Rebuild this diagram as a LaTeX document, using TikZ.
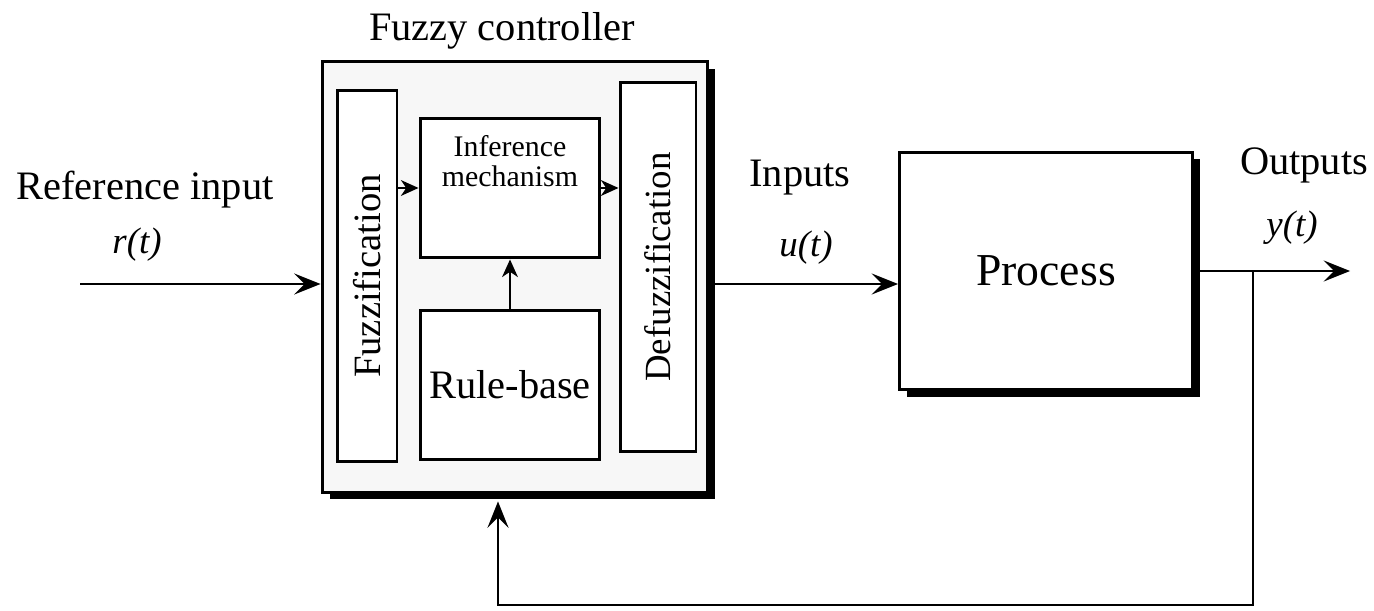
\documentclass[tikz,border=0pt]{standalone}
\usepackage{fontspec}
\setmainfont{Liberation Serif}
\usetikzlibrary{arrows.meta,shadows}

\begin{document}
\begin{tikzpicture}[x=0.02cm, y=-0.02cm,
  box/.style={draw, line width=1.7pt, fill=white, inner sep=0pt},
  shbox/.style={box, drop shadow={shadow xshift=0.15cm, shadow yshift=-0.14cm, fill=black, opacity=1}},
  arr/.style={line width=1.2pt, -{Stealth[length=15pt, width=12pt, inset=6pt]}},
  sarr/.style={line width=1.2pt, -{Stealth[length=10pt, width=9pt, inset=3pt]}},
  lbl/.style={font=\fontsize{23}{25}\selectfont},
  sig/.style={font=\fontsize{21}{23}\selectfont\itshape}]
  \useasboundingbox (0,0) rectangle (1374,611);
  % controller frame and its blocks
  \node[shbox, fill=black!3, minimum width=7.72cm, minimum height=8.62cm] (ctrl) at (515,277) {};
  \node[box, minimum width=1.2cm, minimum height=7.44cm] (fuzz) at (367,276) {};
  \node[rotate=90, font=\fontsize{22}{24}\selectfont] at (fuzz) {Fuzzification};
  \node[box, minimum width=3.6cm, minimum height=2.8cm, align=center,
        font=\fontsize{17}{19}\selectfont] (infer) at (510,188) {Inference\\[-2pt]mechanism\\[12pt]};
  \node[box, minimum width=3.6cm, minimum height=3.0cm, lbl] (rule) at (510,385) {Rule-base};
  \node[box, minimum width=1.52cm, minimum height=7.4cm] (defuzz) at (658,267) {};
  \node[rotate=90, font=\fontsize{21}{23}\selectfont] at (defuzz) {Defuzzification};
  \node[lbl] at (502,31) {Fuzzy controller};
  % plant
  \node[shbox, minimum width=5.86cm, minimum height=4.76cm, font=\fontsize{26}{28}\selectfont] (proc) at (1046,271) {Process};
  % signals
  \coordinate (refin) at (80,284);
  \coordinate (out) at (1350,271);
  \coordinate (tap) at (1253,271);
  \coordinate (fbR) at (1253,605);
  \coordinate (fbL) at (498,605);
  \draw[arr] (refin) -- (refin -| ctrl.west);
  \draw[sarr] (fuzz.east |- infer) -- (infer.west);
  \draw[sarr] (infer.east) -- (defuzz.west |- infer);
  \draw[sarr] (rule.north) -- (infer.south);
  \draw[arr] (ctrl.east |- refin) -- (proc.west |- refin);
  \draw[arr, line width=0.8pt] (proc.east) -- (out);
  \draw[arr] (tap) -- (fbR) -- (fbL) -- (ctrl.south -| fbL) [shorten >=0.15cm];
  % texts
  \node[lbl] at (145,190) {Reference input};
  \node[sig] at (137,245) {r(t)};
  \node[lbl] at (800,178) {Inputs};
  \node[sig] at (806,248) {u(t)};
  \node[lbl] at (1304,165) {Outputs};
  \node[sig] at (1292,228) {y(t)};
\end{tikzpicture}
\end{document}
